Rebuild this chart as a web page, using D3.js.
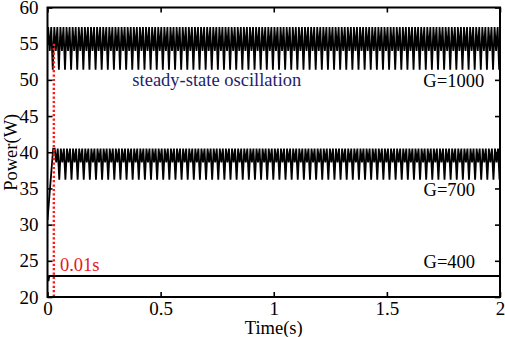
<!DOCTYPE html>
<html>
<head>
<meta charset="utf-8">
<script src="https://cdn.jsdelivr.net/npm/d3@7"></script>
<style>
  html, body { margin: 0; padding: 0; background: #fff; }
  svg { display: block; }
  text { font-family: "Liberation Serif", "Times New Roman", serif; }
</style>
</head>
<body>
<svg id="chart" width="505" height="337"></svg>
<script>
// ---- data ----
const timeTicks = [0, 0.5, 1, 1.5, 2];
const powerTicks = [20, 25, 30, 35, 40, 45, 50, 55, 60];
const timeDomain = [0, 2];
const powerDomain = [20, 60];

// steady-state oscillation: one period's shape, repeated for the whole run
const cycleCount = 74;                        // periods visible over 2 s
const g1000Start = [[0, 55.0]];
const g1000Cycle = [57.3, 54.0, 57.3, 51.4];  // W within one period
const g700Start = [[0, 30.6], [0.025, 40.5]];
const g700Cycle = [40.5, 38.6, 40.5, 36.2];
const g400Series = [[0, 23.0], [0.004, 22.2], [0.008, 22.9], [2, 22.9]];

const markerTime = 0.028;                      // red dotted line ("0.01s")
const markerTop = 55;

const curveLabels = [
  { text: "G=1000", t: 1.93, p: 49.0 },
  { text: "G=700",  t: 1.89, p: 34.0 },
  { text: "G=400",  t: 1.89, p: 24.0 }
];

// ---- layout ----
const svg = d3.select("#chart");
const margin = { left: 47.5, right: 5, top: 7.5, bottom: 40 };
const W = 505, H = 337;
const x = d3.scaleLinear().domain(timeDomain).range([margin.left, W - margin.right]);
const y = d3.scaleLinear().domain(powerDomain).range([H - margin.bottom, margin.top]);

function buildOsc(start, cycle, t0) {
  const pts = start.slice();
  const T = (timeDomain[1] - timeDomain[0]) / cycleCount;
  const n = cycle.length;
  let k = 0;
  for (let t = t0; t <= timeDomain[1] + 1e-9; t += T / n) {
    pts.push([t, cycle[k % n]]);
    k++;
  }
  return pts;
}
const g1000Series = buildOsc(g1000Start, g1000Cycle, 0.003);
const g700Series = buildOsc(g700Start, g700Cycle, 0.025 + 0.0068);

svg.append("clipPath").attr("id", "clip").append("rect")
  .attr("x", x(0)).attr("y", y(60)).attr("width", x(2) - x(0)).attr("height", y(20) - y(60));

const line = d3.line().x(d => x(d[0])).y(d => y(d[1]));
const g = svg.append("g").attr("clip-path", "url(#clip)");
[g1000Series, g700Series, g400Series].forEach(s => {
  g.append("path").attr("d", line(s)).attr("fill", "none")
    .attr("stroke", "#000").attr("stroke-width", 1.8).attr("stroke-linejoin", "miter");
});

// red dotted marker
svg.append("line")
  .attr("x1", x(markerTime)).attr("x2", x(markerTime))
  .attr("y1", y(markerTop)).attr("y2", y(20))
  .attr("stroke", "#ff1a1a").attr("stroke-width", 2.4).attr("stroke-dasharray", "2.2,2.2");

// axes with inward ticks on all four sides
const tickFont = 19;
const fontSize = 18.5;
const axBottom = d3.axisBottom(x).tickValues(timeTicks).tickSize(-5).tickPadding(5)
  .tickFormat(d3.format("~g"));
const axTop = d3.axisTop(x).tickValues(timeTicks).tickSize(-5).tickFormat("");
const axLeft = d3.axisLeft(y).tickValues(powerTicks).tickSize(-5).tickPadding(9);
const axRight = d3.axisRight(y).tickValues(powerTicks).tickSize(-5).tickFormat("");

function styleAxis(sel) {
  sel.attr("font-family", null).attr("font-size", null);
  sel.selectAll(".domain").remove();
  sel.selectAll(".tick line").attr("stroke", "#000").attr("stroke-width", 1.6);
  sel.selectAll(".tick text").attr("font-size", tickFont).attr("fill", "#000");
}
svg.append("g").attr("transform", `translate(0,${y(20)})`).call(axBottom).call(styleAxis);
svg.append("g").attr("transform", `translate(0,${y(60)})`).call(axTop).call(styleAxis);
svg.append("g").attr("transform", `translate(${x(0)},0)`).call(axLeft).call(styleAxis);
svg.append("g").attr("transform", `translate(${x(2)},0)`).call(axRight).call(styleAxis);

// frame
svg.append("rect")
  .attr("x", x(0)).attr("y", y(60)).attr("width", x(2) - x(0)).attr("height", y(20) - y(60))
  .attr("fill", "none").attr("stroke", "#000").attr("stroke-width", 2);

// axis titles
svg.append("text").attr("x", x(1)).attr("y", 334).attr("text-anchor", "middle")
  .attr("font-size", fontSize).text("Time(s)");
svg.append("text").attr("transform", `translate(17,${y(40)}) rotate(-90)`)
  .attr("text-anchor", "middle").attr("font-size", fontSize).text("Power(W)");

// annotations
svg.append("text").attr("x", x(0.375)).attr("y", y(49.1)).attr("font-size", fontSize)
  .attr("fill", "#1e1e6e").text("steady-state oscillation");
svg.selectAll(".clabel").data(curveLabels).enter().append("text")
  .attr("x", d => x(d.t)).attr("y", d => y(d.p)).attr("text-anchor", "end")
  .attr("font-size", fontSize).attr("fill", "#000").text(d => d.text);
svg.append("text").attr("x", x(0.055)).attr("y", y(23.6)).attr("font-size", fontSize)
  .attr("fill", "#e8141c").text("0.01s");
</script>
</body>
</html>
